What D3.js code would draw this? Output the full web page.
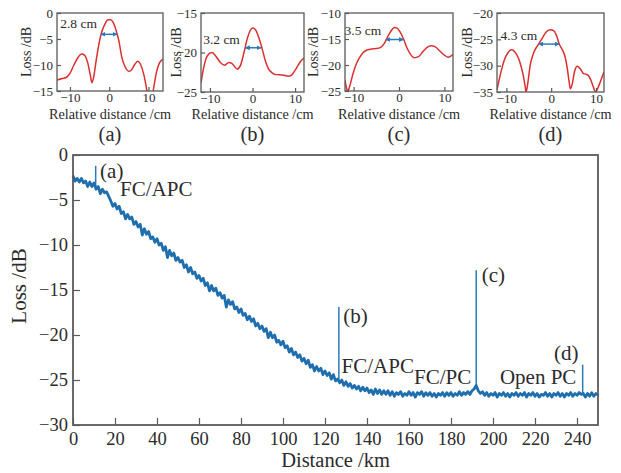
<!DOCTYPE html>
<html>
<head>
<meta charset="utf-8">
<script src="https://cdn.jsdelivr.net/npm/d3@7"></script>
<style>
  body { margin: 0; background: #fff; }
  #chart, #chart text { font-family: "Liberation Serif", serif; }
</style>
</head>
<body>
<svg id="chart" width="621" height="473"></svg>
<script>
// ---- data ----

// insets: relative distance (cm) vs loss (dB)
var insetA = [[-13.3,-12.9],[-12,-12.6],[-11,-12.4],[-10,-11.6],[-9,-10.0],[-8,-8.6],[-7,-7.9],[-6.3,-8.1],
  [-5.5,-9.5],[-4.8,-12.0],[-4.4,-13.4],[-4.0,-12.5],[-3.3,-9.0],[-2.5,-5.5],[-2,-3.9],[-1,-2.0],[-0.3,-1.3],
  [0.3,-1.3],[1,-1.8],[2,-4.0],[2.5,-5.5],[3.2,-8.5],[4,-10.3],[5,-11.2],[5.6,-11.0],[6.5,-9.9],[7.3,-9.3],
  [8,-9.9],[8.8,-11.8],[9.5,-14.5],[10.2,-18],[10.6,-18],[11.3,-14.5],[12,-11.5],[12.8,-9.6],[13.7,-8.9]];
var insetB = [[-12.1,-23.8],[-11.5,-22.0],[-11,-20.9],[-10.3,-20.2],[-9.5,-20.0],[-8.7,-20.4],[-7.5,-21.3],
  [-6.5,-21.6],[-5.6,-21.25],[-4.8,-21.4],[-3.6,-22.1],[-2.8,-21.6],[-2,-20.0],[-1.2,-18.2],[-0.4,-17.1],
  [0.1,-16.9],[0.8,-17.2],[1.6,-18.3],[2.3,-19.6],[3,-21.0],[3.8,-22.1],[4.7,-22.6],[5.5,-22.8],[7,-22.85],
  [8.5,-23.0],[9.3,-22.8],[10.3,-22.0],[11.2,-21.2],[12.1,-20.7]];
var insetC = [[-11.9,-22.9],[-11.6,-24.3],[-11.3,-25.0],[-10.9,-24.2],[-10.3,-22.2],[-9.5,-20.0],[-8.7,-18.6],
  [-7.9,-17.6],[-7,-17.1],[-6,-16.9],[-5,-16.85],[-4,-16.6],[-3.2,-15.8],[-2.5,-14.6],[-1.8,-13.5],[-1,-12.8],
  [-0.4,-12.9],[0.2,-13.6],[1,-15.0],[1.7,-16.6],[2.5,-17.9],[3.4,-18.6],[4.3,-18.4],[5.3,-17.4],[6.2,-16.6],
  [7.1,-16.3],[8,-16.5],[9,-17.3],[10,-18.1],[10.9,-18.5],[11.9,-18.0]];
var insetD = [[-12.1,-34.6],[-11.3,-31.5],[-10.5,-29.0],[-9.7,-27.6],[-8.9,-27.0],[-8.1,-27.4],[-7.3,-28.6],
  [-6.7,-30.2],[-6.2,-32.0],[-5.8,-34.0],[-5.6,-35.0],[-5.2,-33.2],[-4.7,-30.0],[-4.1,-28.0],[-3.5,-26.8],
  [-2.8,-25.9],[-2,-24.8],[-1.2,-23.7],[-0.2,-23.2],[0.6,-23.4],[1.2,-24.3],[1.8,-25.9],[2.5,-27.0],[3.1,-28.3],
  [3.6,-30.5],[4.0,-33.0],[4.3,-34.4],[4.7,-33.5],[5.2,-31.2],[5.8,-30.1],[6.5,-30.6],[7.2,-31.5],[7.7,-31.6],
  [8.2,-31.8],[8.8,-32.6],[9.4,-34.0],[9.9,-35.0],[10.4,-34.3],[11,-33.0],[11.8,-31.2]];

var insetNames = ["(a)", "(b)", "(c)", "(d)"];
var insetWidthText = ["2.8 cm", "3.2 cm", "3.5 cm", "4.3 cm"];
// width arrows: [from cm, to cm, level dB]
var insetArrows = [[-2.1, 2.0, -4.1], [-1.7, 2.0, -19.4], [-2.9, 1.0, -15.1], [-2.8, 1.8, -25.9]];
var insetXTicks = [-10, 0, 10];
var insetYTicks = [[0, -5, -10, -15], [-15, -20, -25], [-10, -15, -20, -25], [-20, -25, -30, -35]];

// main OTDR trace, one sample per km from 0 km
var traceLoss = [
  -2.3,-2.9,-2.6,-3.0,-2.6,-3.1,-2.9,-3.5,-3.0,-3.5,
  -3.1,-3.8,-3.5,-4.3,-3.8,-4.2,-4.1,-4.6,-5.1,-5.7,
  -5.4,-6.0,-5.7,-6.5,-6.3,-7.1,-6.6,-7.1,-6.9,-7.7,
  -7.4,-8.0,-7.7,-8.9,-8.2,-8.8,-8.5,-9.3,-9.1,-9.7,
  -9.3,-10.0,-9.8,-10.6,-10.2,-11.4,-10.6,-11.2,-10.9,-11.7,
  -11.4,-11.9,-11.7,-12.5,-12.2,-13.0,-12.5,-13.2,-13.0,-13.7,
  -13.4,-14.0,-13.7,-14.5,-14.2,-15.1,-14.5,-15.1,-14.8,-15.6,
  -15.3,-15.9,-15.6,-16.9,-16.1,-16.6,-16.3,-17.1,-16.9,-17.5,
  -17.1,-17.8,-17.6,-18.3,-17.9,-18.5,-18.2,-19.0,-18.7,-19.3,
  -19.0,-19.6,-19.3,-20.3,-19.7,-20.3,-20.0,-20.8,-20.6,-21.1,
  -20.7,-21.4,-21.2,-21.9,-21.5,-22.2,-21.9,-22.5,-22.2,-22.9,
  -22.6,-23.2,-22.8,-23.6,-23.3,-24.0,-23.5,-24.0,-23.7,-24.4,
  -24.0,-24.5,-24.2,-24.9,-24.4,-25.1,-24.9,-25.3,-25.0,-25.6,
  -25.2,-25.7,-25.4,-25.9,-25.6,-26.0,-25.7,-26.2,-25.8,-26.2,
  -25.9,-26.4,-26.1,-26.6,-26.0,-26.5,-26.1,-26.6,-26.2,-26.6,
  -26.2,-26.7,-26.3,-26.8,-26.4,-26.6,-26.3,-26.8,-26.5,-26.7,
  -26.3,-26.7,-26.4,-26.9,-26.4,-26.6,-26.3,-26.8,-26.4,-26.7,
  -26.4,-26.8,-26.5,-26.9,-26.5,-26.7,-26.4,-26.8,-26.4,-26.7,
  -26.4,-26.8,-26.5,-26.7,-26.3,-26.7,-26.4,-26.6,-26.3,-26.6,
  -26.2,-26.0,-25.6,-26.2,-26.5,-26.3,-26.7,-26.4,-26.8,-26.5,
  -26.7,-26.4,-26.9,-26.5,-26.7,-26.4,-26.8,-26.5,-26.9,-26.5,
  -26.7,-26.4,-26.8,-26.5,-26.7,-26.4,-26.9,-26.5,-26.7,-26.4,
  -26.8,-26.5,-26.9,-26.6,-26.7,-26.4,-26.8,-26.5,-26.9,-26.5,
  -26.7,-26.4,-26.8,-26.5,-26.9,-26.5,-26.7,-26.4,-26.8,-26.5,
  -26.7,-26.4,-26.6,-26.5,-26.9,-26.5,-26.8,-26.4,-26.8,-26.5,
  -26.7];
var traceStepKm = 1;

// reflection events (connector spikes)
var eventKm = [10.8, 126.6, 192.0, 242.7];
var eventPeak = [-1.2, -16.9, -12.8, -23.3];
var eventBase = [-3.5, -25.0, -26.0, -26.6];

// annotation texts and their anchor (km, dB)
var noteText = ["(a)", "FC/APC", "(b)", "FC/APC", "(c)", "FC/PC", "(d)", "Open PC"];
var noteKm   = [12.9, 22.4, 128.7, 127.9, 194.6, 162.4, 229.0, 203.3];
var noteLoss = [-2.55, -4.6, -18.7, -24.2, -14.1, -25.4, -22.75, -25.4];

var mainXTicks = [0, 20, 40, 60, 80, 100, 120, 140, 160, 180, 200, 220, 240];
var mainYTicks = [0, -5, -10, -15, -20, -25, -30];

// ---- layout ----
var svg = d3.select("#chart");
var FONT = "Liberation Serif";
var fmt = d3.format("d");
var frameColor = "#5a5a5a";
var textColor = "#2b2b2b";
var redLine = "#dc2f2f";
var blueLine = "#1f6eae";
var arrowBlue = "#2b7bb9";

var insetLayout = [
  {left: 57,  right: 163, top: 13, bottom: 91, xDomain: [-13.3, 13.7], yDomain: [-15, 0],   yLabelX: 31,  note: [-12.5, -2.9]},
  {left: 201, right: 304, top: 13, bottom: 92, xDomain: [-12.1, 12.1], yDomain: [-25, -15], yLabelX: 181, note: [-11.6, -18.95]},
  {left: 345, right: 453, top: 13, bottom: 91, xDomain: [-11.9, 11.9], yDomain: [-25, -10], yLabelX: 318, note: [-12.0, -14.3]},
  {left: 497, right: 604, top: 13, bottom: 92, xDomain: [-12.1, 11.8], yDomain: [-35, -20], yLabelX: 472, note: [-11.3, -25.1]}
];
var insetData = [insetA, insetB, insetC, insetD];

var main = {left: 73, right: 598, top: 155, bottom: 425};

function init(){
  svg.attr("font-family", FONT);
  addMarkers();
  insetLayout.forEach(function(cfg, i){ drawInset(cfg, i); });
  drawMain();
}

function addText(g, size){
  return g.append("text")
    .attr("font-family", FONT)
    .attr("font-size", size)
    .attr("fill", textColor);
}

function addMarkers(){
  var defs = svg.append("defs");
  ["start", "end"].forEach(function(k){
    defs.append("marker")
      .attr("id", "arr-" + k)
      .attr("viewBox", "0 0 10 10")
      .attr("refX", k === "end" ? 9 : 1).attr("refY", 5)
      .attr("markerWidth", 5).attr("markerHeight", 5)
      .attr("markerUnits", "userSpaceOnUse")
      .attr("orient", "auto")
      .append("path")
      .attr("d", k === "end" ? "M0,0L10,5L0,10Z" : "M10,0L0,5L10,10Z")
      .attr("fill", arrowBlue);
  });
}

function styleAxis(g, size){
  g.attr("font-family", FONT).attr("font-size", size);
  g.select(".domain").remove();
  g.selectAll(".tick line").attr("stroke", frameColor).attr("stroke-width", 1.2);
  g.selectAll(".tick text").attr("font-family", FONT).attr("font-size", size).attr("fill", textColor);
}

function drawInset(cfg, i){
  var x = d3.scaleLinear().domain(cfg.xDomain).range([cfg.left, cfg.right]);
  var y = d3.scaleLinear().domain(cfg.yDomain).range([cfg.bottom, cfg.top]);
  var g = svg.append("g");

  g.append("clipPath").attr("id", "clip" + i)
    .append("rect")
    .attr("x", cfg.left).attr("y", cfg.top)
    .attr("width", cfg.right - cfg.left).attr("height", cfg.bottom - cfg.top);

  var line = d3.line()
    .x(function(d){ return x(d[0]); })
    .y(function(d){ return y(d[1]); })
    .curve(d3.curveMonotoneX);

  g.append("path")
    .datum(insetData[i])
    .attr("clip-path", "url(#clip" + i + ")")
    .attr("fill", "none")
    .attr("stroke", redLine)
    .attr("stroke-width", 1.5)
    .attr("d", line);

  var ar = insetArrows[i];
  g.append("line")
    .attr("x1", x(ar[0])).attr("x2", x(ar[1]))
    .attr("y1", y(ar[2])).attr("y2", y(ar[2]))
    .attr("stroke", arrowBlue).attr("stroke-width", 1.5)
    .attr("marker-start", "url(#arr-start)")
    .attr("marker-end", "url(#arr-end)");

  addText(g, 13.5)
    .attr("x", x(cfg.note[0])).attr("y", y(cfg.note[1]))
    .text(insetWidthText[i]);

  var xAxis = d3.axisBottom(x).tickValues(insetXTicks).tickSizeInner(-4).tickSizeOuter(0)
    .tickPadding(2).tickFormat(fmt);
  var yAxis = d3.axisLeft(y).tickValues(insetYTicks[i]).tickSizeInner(-4).tickSizeOuter(0)
    .tickPadding(4).tickFormat(fmt);

  g.append("g").attr("transform", "translate(0," + cfg.bottom + ")").call(xAxis)
    .call(function(a){ styleAxis(a, 13); });
  g.append("g").attr("transform", "translate(" + cfg.left + ",0)").call(yAxis)
    .call(function(a){ styleAxis(a, 13); });

  g.append("rect")
    .attr("x", cfg.left).attr("y", cfg.top)
    .attr("width", cfg.right - cfg.left).attr("height", cfg.bottom - cfg.top)
    .attr("fill", "none").attr("stroke", frameColor).attr("stroke-width", 1.3);

  addText(g, 14.2)
    .attr("x", (cfg.left + cfg.right) / 2).attr("y", 119)
    .attr("text-anchor", "middle")
    .text("Relative distance /cm");

  addText(g, 14)
    .attr("transform", "translate(" + cfg.yLabelX + "," + ((cfg.top + cfg.bottom) / 2) + ") rotate(-90)")
    .attr("text-anchor", "middle")
    .text("Loss /dB");

  addText(g, 20.5)
    .attr("x", (cfg.left + cfg.right) / 2).attr("y", 141)
    .attr("text-anchor", "middle")
    .text(insetNames[i]);
}

function drawMain(){
  var x = d3.scaleLinear().domain([0, 250]).range([main.left, main.right]);
  var y = d3.scaleLinear().domain([-30, 0]).range([main.bottom, main.top]);
  var g = svg.append("g");

  var line = d3.line()
    .x(function(d, i){ return x(i * traceStepKm); })
    .y(function(d){ return y(d); });

  g.selectAll(".event")
    .data(eventKm)
    .enter().append("line")
    .attr("class", "event")
    .attr("x1", function(d){ return x(d); }).attr("x2", function(d){ return x(d); })
    .attr("y1", function(d, i){ return y(eventBase[i]); })
    .attr("y2", function(d, i){ return y(eventPeak[i]); })
    .attr("stroke", arrowBlue).attr("stroke-width", 1.5);

  g.append("path")
    .datum(traceLoss)
    .attr("fill", "none")
    .attr("stroke", blueLine)
    .attr("stroke-width", 2.8)
    .attr("stroke-linejoin", "round")
    .attr("d", line);

  var xAxis = d3.axisBottom(x).tickValues(mainXTicks).tickSizeInner(-7).tickSizeOuter(0)
    .tickPadding(7).tickFormat(fmt);
  var yAxis = d3.axisLeft(y).tickValues(mainYTicks).tickSizeInner(-7).tickSizeOuter(0)
    .tickPadding(5).tickFormat(fmt);

  g.append("g").attr("transform", "translate(0," + main.bottom + ")").call(xAxis)
    .call(function(a){ styleAxis(a, 18.5); });
  g.append("g").attr("transform", "translate(" + main.left + ",0)").call(yAxis)
    .call(function(a){ styleAxis(a, 18.5); });

  g.append("rect")
    .attr("x", main.left).attr("y", main.top)
    .attr("width", main.right - main.left).attr("height", main.bottom - main.top)
    .attr("fill", "none").attr("stroke", frameColor).attr("stroke-width", 1.8);

  noteText.forEach(function(t, i){
    addText(g, 21)
      .attr("x", x(noteKm[i])).attr("y", y(noteLoss[i]))
      .text(t);
  });

  addText(g, 20.5)
    .attr("x", (main.left + main.right) / 2).attr("y", 467)
    .attr("text-anchor", "middle")
    .text("Distance /km");

  addText(g, 21)
    .attr("transform", "translate(26," + 286 + ") rotate(-90)")
    .attr("text-anchor", "middle")
    .text("Loss /dB");
}

init();
</script>
</body>
</html>
